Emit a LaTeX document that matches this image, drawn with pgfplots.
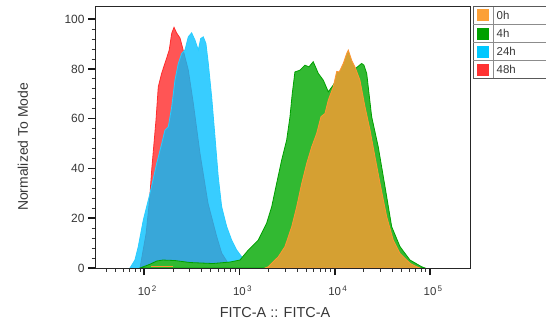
\documentclass[border=0pt]{standalone}
\usepackage{pgfplots}
\pgfplotsset{compat=1.18}
\usepackage{fontspec}
\setmainfont{Liberation Sans}
\definecolor{redfill}{RGB}{255,85,85}
\definecolor{redline}{RGB}{255,45,45}
\definecolor{bluefill}{RGB}{0,191,255}
\definecolor{blueline}{RGB}{40,205,255}
\definecolor{greenfill}{RGB}{50,185,50}
\definecolor{greenline}{RGB}{0,160,0}
\definecolor{orangefill}{RGB}{213,160,50}
\definecolor{orangeline}{RGB}{255,150,50}
\definecolor{legorange}{RGB}{252,160,55}
\definecolor{leggreen}{RGB}{0,160,0}
\definecolor{legblue}{RGB}{0,200,255}
\definecolor{legred}{RGB}{255,50,50}
\definecolor{txt}{RGB}{55,55,55}

\pgfplotstableread{
lx y
1.955 0
2.020 14
2.058 28.5
2.078 39.4
2.123 59.4
2.147 72.8
2.183 78.3
2.228 83.5
2.262 87.6
2.288 94.3
2.312 96.7
2.340 94.4
2.375 92.4
2.399 88.9
2.462 79.5
2.514 66.3
2.584 46.2
2.668 26.1
2.760 12.6
2.812 6.0
2.878 2.0
2.952 0
}\hourFortyEight

\pgfplotstableread{
lx y
1.850 0
1.902 3.2
1.937 8.6
1.990 19.3
2.060 30
2.130 42
2.183 50
2.217 55.4
2.252 56.7
2.288 64.8
2.322 75.5
2.357 82.2
2.392 86.2
2.427 87.6
2.462 92.9
2.497 94.5
2.532 91.6
2.567 87.6
2.592 92.2
2.619 92.9
2.647 90.2
2.672 82.2
2.707 68.8
2.742 52.7
2.776 36.7
2.812 24.6
2.865 16.6
2.917 11.2
2.970 7.2
3.022 4.5
3.067 2
3.109 0
}\hourTwentyFour

\pgfplotstableread{
lx y
1.955 0
2.060 1.5
2.130 2.8
2.196 3.2
2.322 3.0
2.480 2.2
2.721 1.8
2.899 2.4
3.004 3.2
3.091 7.2
3.196 11.2
3.284 18
3.337 24.6
3.389 34
3.442 43.4
3.494 51.4
3.529 60.8
3.553 70.2
3.581 78.8
3.634 79.5
3.686 81.5
3.728 80.8
3.773 82.9
3.826 78.2
3.878 75.5
3.931 70.8
3.983 73.5
4.054 78
4.137 82
4.211 80
4.281 82.2
4.305 81.5
4.334 78.2
4.386 60.8
4.455 48.7
4.526 32.7
4.596 16.6
4.683 8.6
4.788 3.2
4.911 0.5
4.946 0
}\hourFour

\pgfplotstableread{
lx y
3.267 0
3.301 0.5
3.406 4.5
3.476 8.6
3.547 16.6
3.599 24.6
3.652 34
3.704 42
3.757 48.7
3.809 54.1
3.854 60.8
3.896 62.1
3.931 67.5
3.983 72.8
4.019 79
4.046 78.8
4.088 82.2
4.124 86.2
4.141 87.6
4.176 83.5
4.211 80.8
4.263 75.5
4.316 64.8
4.369 55.4
4.421 44.7
4.474 34
4.544 20.6
4.613 11.2
4.683 5.9
4.788 1.9
4.858 0.5
4.893 0
}\hourZero

\begin{document}
\begin{tikzpicture}[x=1bp,y=1bp]
\path[use as bounding box] (0,0) rectangle (546,325);
\begin{axis}[
  at={(95bp,57bp)}, anchor=south west,
  width=375bp, height=261.3bp, scale only axis,
  xmin=1.483, xmax=5.418, ymin=0, ymax=105,
  axis on top,
  axis line style={black!85, line width=0.9bp},
  xtick={2,3,4,5},
  xticklabels={10\textsuperscript{\,2},10\textsuperscript{\,3},10\textsuperscript{\,4},10\textsuperscript{\,5}},
  minor xtick={1.60206,1.69897,1.77815,1.84510,1.90309,1.95424,
    2.30103,2.47712,2.60206,2.69897,2.77815,2.84510,2.90309,2.95424,
    3.30103,3.47712,3.60206,3.69897,3.77815,3.84510,3.90309,3.95424,
    4.30103,4.47712,4.60206,4.69897,4.77815,4.84510,4.90309,4.95424},
  ytick={0,20,40,60,80,100},
  minor y tick num=4,
  xtick pos=bottom, ytick pos=left,
  tick align=outside,
  major tick length=7bp, minor tick length=3.5bp,
  major tick style={black!90, line width=1.6bp},
  minor tick style={black!80, line width=0.8bp},
  /pgf/number format/assume math mode=true,
  yticklabel style={font=\fontsize{12}{13}\selectfont, text=txt},
  xticklabel style={font=\fontsize{11.5}{12}\selectfont, text=txt, yshift=-7bp, xshift=3bp},
]
\addplot[fill=redfill, draw=redline, line width=0.8bp] table[x=lx,y=y] {\hourFortyEight} \closedcycle;
\addplot[fill=bluefill, fill opacity=0.78, draw=blueline, line width=0.8bp] table[x=lx,y=y] {\hourTwentyFour} \closedcycle;
\addplot[fill=greenfill, draw=greenline, line width=0.8bp] table[x=lx,y=y] {\hourFour} \closedcycle;
\addplot[fill=orangefill, draw=orangeline, line width=0.8bp] table[x=lx,y=y] {\hourZero} \closedcycle;
\addplot[draw=orangeline, line width=1bp] coordinates {(2.075,0.6) (2.30,0.6)};
\end{axis}
% axis labels
\node[rotate=90, text=txt, font=\fontsize{14}{16}\selectfont] at (23,178) {Normalized To Mode};
\node[text=txt, font=\fontsize{14.5}{16}\selectfont] at (275,12) {FITC-A :: FITC-A};
% legend (table style)
\draw[black!65, line width=0.8bp] (473,246.7) rectangle (560,318.3);
\foreach \yy in {300.7,282.3,264.3} \draw[black!45, line width=0.6bp] (473,\yy) -- (560,\yy);
\draw[black!45, line width=0.6bp] (493.3,246.7) -- (493.3,318.3);
\fill[legorange] (477.3,303.5) rectangle (489.3,315.5);
\fill[leggreen]  (477.3,285.5) rectangle (489.3,297.5);
\fill[legblue]   (477.3,267.3) rectangle (489.3,279.3);
\fill[legred]    (477.3,249.5) rectangle (489.3,261.5);
\node[anchor=west, text=txt, font=\fontsize{11.5}{12}\selectfont, inner sep=0] at (496.5,309.5) {0h};
\node[anchor=west, text=txt, font=\fontsize{11.5}{12}\selectfont, inner sep=0] at (496.5,291.5) {4h};
\node[anchor=west, text=txt, font=\fontsize{11.5}{12}\selectfont, inner sep=0] at (496.5,273.3) {24h};
\node[anchor=west, text=txt, font=\fontsize{11.5}{12}\selectfont, inner sep=0] at (496.5,255.5) {48h};
\end{tikzpicture}
\end{document}
